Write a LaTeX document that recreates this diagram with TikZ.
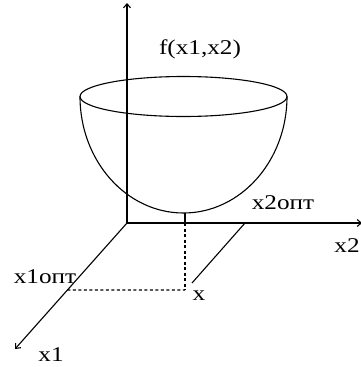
\documentclass[tikz,border=0pt]{standalone}
\usepackage{fontspec}
\setmainfont[FakeStretch=1.2]{Liberation Serif}
\usetikzlibrary{arrows.meta,calc}
\begin{document}
\begin{tikzpicture}[x=1pt,y=-1pt,
  axisline/.style={line width=1.1pt,-{Straight Barb[length=4pt,width=7pt]}},
  solidline/.style={line width=1.1pt},
  dashline/.style={line width=1.1pt,dash pattern=on 3pt off 2.5pt},
  lbl/.style={inner sep=0pt,font=\fontsize{21}{21}\selectfont}]
\useasboundingbox (0,0) rectangle (360,367);
\coordinate (O) at (127,223);
\coordinate (Az) at (127,3);
\coordinate (A2) at (362,223);
\coordinate (A1) at (15,349);
\coordinate (B) at (185,213);
\coordinate (Bx) at (185,223);
\coordinate (X) at (185,290);
\coordinate (X2o) at (245,223);
\coordinate (X2e) at (192,283);
\coordinate (X1o) at ($(O)!{(290-223)/(349-223)}!(A1)$);
% axes
\draw[axisline] (O) -- (Az);
\draw[axisline] (O) -- (A2);
\draw[axisline] (O) -- (A1);
% bowl
\draw[solidline] (183.5,96.5) ellipse [x radius=103.5, y radius=20];
\draw[solidline] (80,96.5) arc [start angle=180, end angle=360, x radius=103.5, y radius=-116.5];
% projections
\draw[solidline] (B) -- (Bx);
\draw[dashline] (Bx) -- (X);
\draw[dashline] (X1o) -- (X);
\draw[solidline] (X2o) -- (X2e);
% labels
\node[lbl] (f) at (200,49) {f(x1,x2)};
\node[lbl] (l2o) at (283,203) {x2опт};
\node[lbl] (l2) at (347,246) {x2};
\node[lbl] (l1o) at (45,277) {x1опт};
\node[lbl] (lx) at (199,296) {x};
\node[lbl] (l1) at (51,355) {x1};
\end{tikzpicture}
\end{document}
